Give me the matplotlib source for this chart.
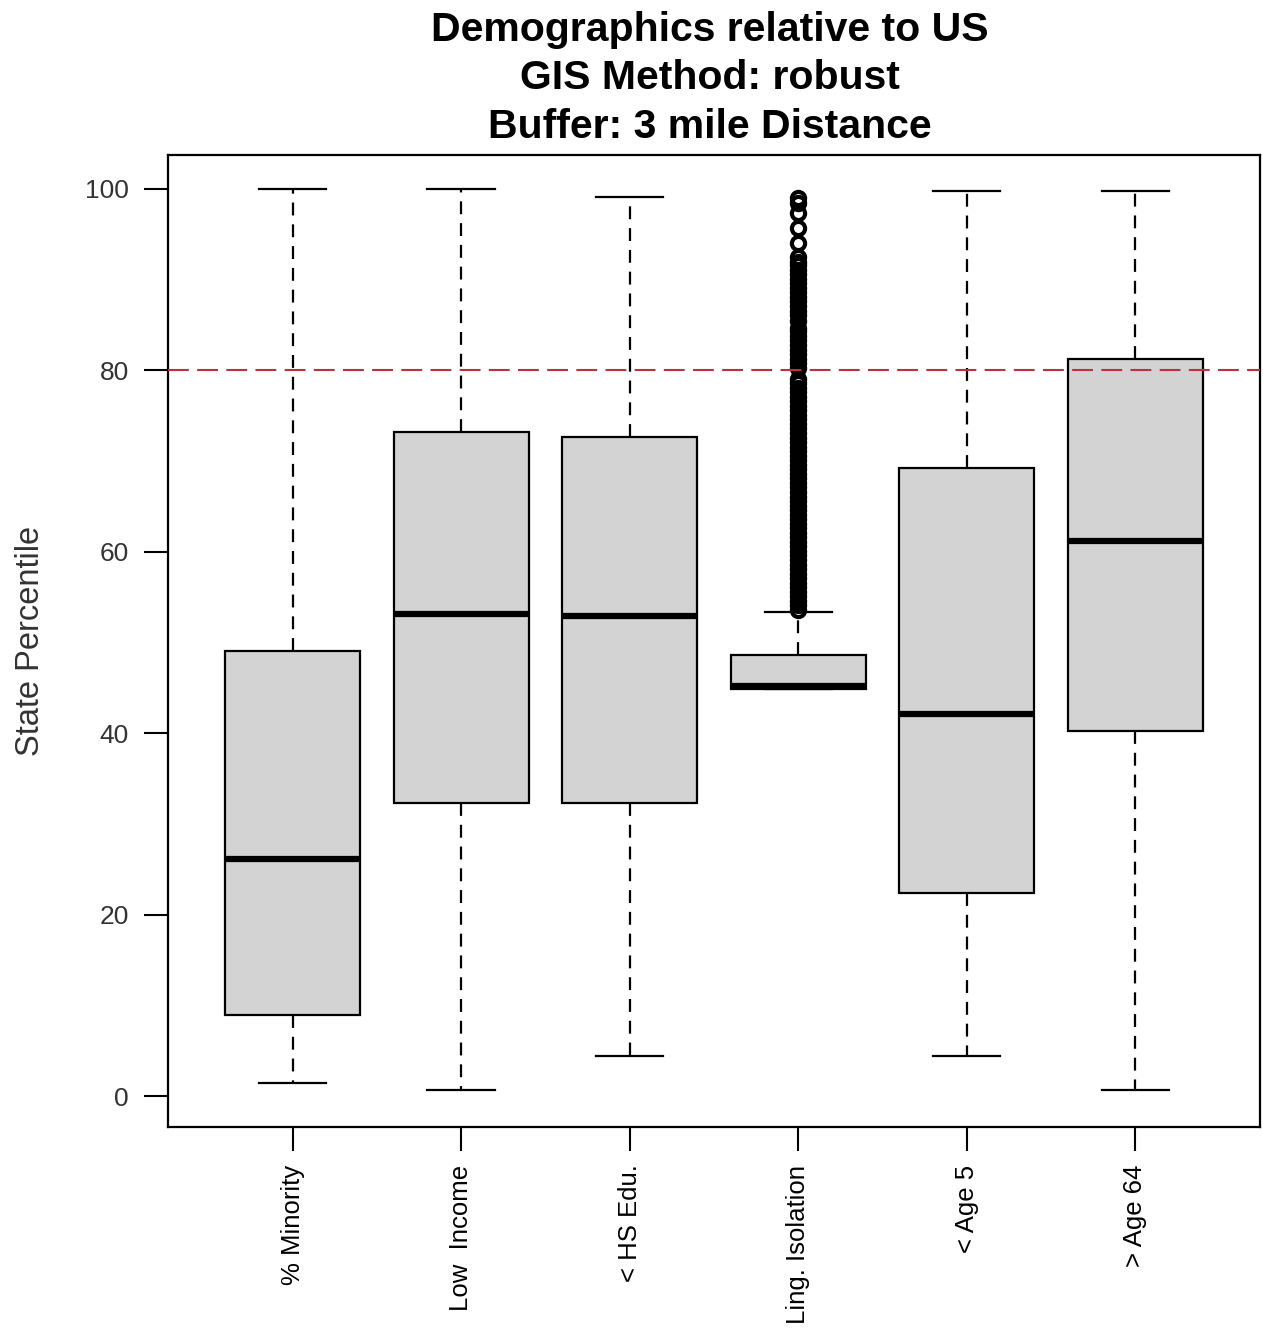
import matplotlib
matplotlib.use('Agg')
import matplotlib.pyplot as plt

plt.rcParams['font.family'] = ['Liberation Sans', 'DejaVu Sans']

# box stats (state percentile)
labels = ['% Minority', 'Low  Income', '< HS Edu.', 'Ling. Isolation', '< Age 5', '> Age 64']
whislo = [1.5, 0.7, 4.4, 44.9, 4.4, 0.7]
q1 = [9.0, 32.3, 32.3, 44.9, 22.4, 40.2]
med = [26.1, 53.1, 52.9, 45.2, 42.1, 61.2]
q3 = [49.1, 73.2, 72.7, 48.6, 69.2, 81.3]
whishi = [100.0, 100.0, 99.1, 53.4, 99.8, 99.8]

# outliers of Ling. Isolation (dense column of circles)
ling_outliers = [
    53.6, 54.1, 54.6, 55.1, 55.6, 56.1, 56.6, 57.1, 57.6, 58.1,
    58.6, 59.1, 59.6, 60.1, 60.6, 61.1, 61.6, 62.1, 62.6, 63.1,
    63.6, 64.1, 64.6, 65.1, 65.6, 66.1, 66.6, 67.1, 67.6, 68.1,
    68.6, 69.1, 69.6, 70.1, 70.6, 71.1, 71.6, 72.1, 72.6, 73.1,
    73.6, 74.1, 74.6, 75.1, 75.6, 76.1, 76.6, 77.1, 77.6, 78.1,
    78.6, 79.1, 80.3, 80.8, 81.3, 81.8, 82.3, 82.8, 83.3, 83.8,
    84.3, 84.7, 85.4, 86.1, 86.6, 87.1, 87.6, 88.1, 88.6, 89.1,
    89.6, 90.1, 90.6, 91.1, 91.6, 92.0, 92.5, 94.0, 95.7, 97.4,
    98.5, 99.0,
]
threshold = 80

stats = []
for i in range(len(labels)):
    stats.append({
        'label': labels[i],
        'whislo': whislo[i], 'q1': q1[i], 'med': med[i],
        'q3': q3[i], 'whishi': whishi[i],
        'fliers': ling_outliers if i == 3 else [],
    })

fig = plt.figure(figsize=(12.63, 13.30), dpi=100)
ax = fig.add_axes([0.133, 0.1526, 0.8646, 0.7309])

ax.bxp(stats, positions=range(1, 7), widths=0.8, capwidths=0.4,
       patch_artist=True, showfliers=True,
       boxprops=dict(facecolor='#d3d3d3', edgecolor='black', linewidth=1.6),
       medianprops=dict(color='black', linewidth=4.5, solid_capstyle='butt'),
       whiskerprops=dict(color='black', linewidth=1.6, linestyle=(0, (5.8, 4.0))),
       capprops=dict(color='black', linewidth=1.6),
       flierprops=dict(marker='o', markerfacecolor='none', markeredgecolor='black',
                       markersize=9.5, markeredgewidth=3.0))

ax.axhline(threshold, color='#b8323f', linewidth=1.5, linestyle=(0, (10, 4)), zorder=5)

ax.set_xlim(0.26, 6.74)
ax.set_ylim(-3.4, 103.75)
ax.set_yticks([0, 20, 40, 60, 80, 100])
ax.set_xticklabels(labels, rotation=90, fontsize=18.5)
ax.tick_params(axis='y', labelsize=19, length=17, width=1.5, pad=11, direction='out', labelcolor='#333333')
ax.tick_params(axis='x', length=17, width=1.5, pad=10, direction='out')
for s in ax.spines.values():
    s.set_linewidth(1.6)

ax.set_ylabel('State Percentile', fontsize=23.5, color='#333333')
ax.yaxis.set_label_coords(-0.112, 0.5)

fig.text(0.562, 0.941, 'Demographics relative to US\nGIS Method: robust\nBuffer: 3 mile Distance',
         ha='center', va='center', fontsize=29.5, fontweight='bold', linespacing=1.34)

plt.savefig('out.png', dpi=100)
